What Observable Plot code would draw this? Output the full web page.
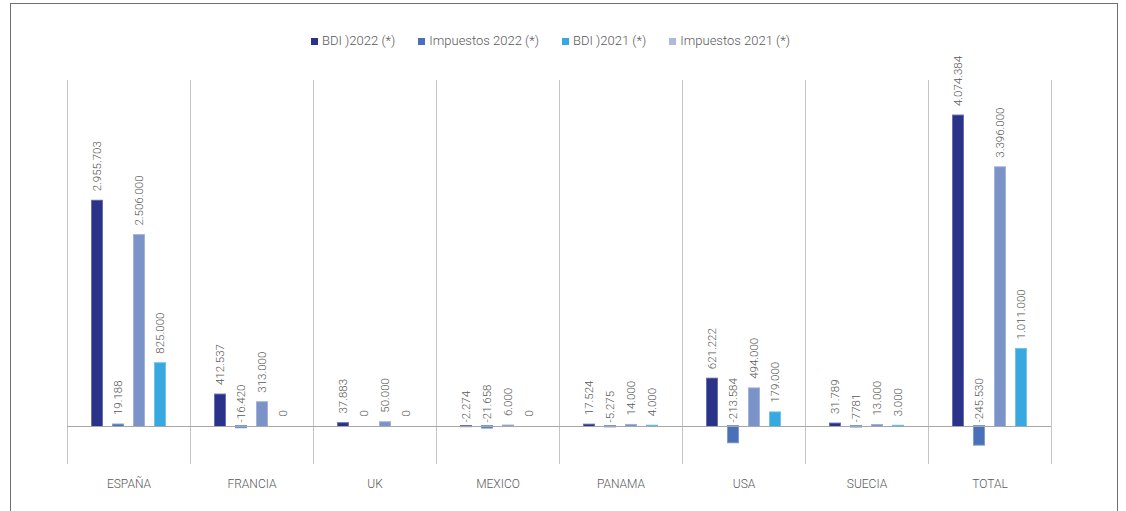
<!DOCTYPE html>
<html><head><meta charset="utf-8">
<script src="https://cdn.jsdelivr.net/npm/d3@7"></script>
<script src="https://cdn.jsdelivr.net/npm/@observablehq/plot@0.6"></script>
<style>
body{margin:0;background:#fff;font-family:Roboto,sans-serif;}
#wrap{position:relative;width:1126px;height:511px;overflow:hidden;}
#frame{position:absolute;left:10px;top:3px;width:1108px;height:600px;border:1.5px solid #707070;box-sizing:border-box;pointer-events:none;}
#legend{position:absolute;left:311px;top:33px;display:flex;gap:23px;font-size:13px;font-weight:300;color:#595959;line-height:16px;white-space:nowrap;}
#legend .item{display:flex;align-items:center;}
#legend .sw{width:7px;height:7px;margin-right:4px;display:inline-block;}
svg{display:block;}
</style></head>
<body>
<div id="wrap">
<div id="chart"></div>
<div id="frame"></div>
<div id="legend"></div>
</div>
<script>
const countries = ["ESPAÑA","FRANCIA","UK","MEXICO","PANAMA","USA","SUECIA","TOTAL"];
const series = ["BDI )2022 (*)","Impuestos 2022 (*)","BDI )2021 (*)","Impuestos 2021 (*)"];
const bdi2022 = [2955703, 412537, 37883, -2274, 17524, 621222, 31789, 4074384];
const imp2022 = [19188, -16420, 0, -21658, -5275, -213584, -7781, -245530];
const bdi2021 = [2506000, 313000, 50000, 6000, 14000, 494000, 13000, 3396000];
const imp2021 = [825000, 0, 0, 0, 4000, 179000, 3000, 1011000];
const imp2022Labels = ["19.188","-16.420","0","-21.658","-5.275","-213.584","-7781","-245.530"];
const barColors = ["#2a3389","#4a70b9","#7b93c9","#37a9e0"];
const legendColors = ["#2a3389","#4a70b9","#37a9e0","#b0b8de"];

const fmt = d3.formatLocale({decimal:",", thousands:".", grouping:[3], minus:"-"}).format(",d");
const values = [bdi2022, imp2022, bdi2021, imp2021];
const labels = [bdi2022.map(fmt), imp2022Labels, bdi2021.map(fmt), imp2021.map(fmt)];
const data = countries.flatMap((c,i)=>series.map((s,j)=>({country:c, series:s, value:values[j][i], label:labels[j][i]})));

const legend = document.getElementById("legend");
series.forEach((s,j)=>{
  const it = document.createElement("div"); it.className="item";
  const sw = document.createElement("span"); sw.className="sw"; sw.style.background=legendColors[j];
  const t = document.createElement("span"); t.textContent=s;
  it.appendChild(sw); it.appendChild(t); legend.appendChild(it);
});

const txt = {fx:"country", x:"series", text:"label", rotate:-90, textAnchor:"start", fill:"#595959", fontSize:11.5, fontWeight:300};
const chart = Plot.plot({
  width:1126, height:511, marginLeft:67, marginRight:75, marginTop:80, marginBottom:48,
  style:{fontFamily:"Roboto, sans-serif", background:"transparent"},
  fx:{domain:countries, padding:0, label:null},
  x:{domain:series, paddingInner:0.54, paddingOuter:1.14, axis:null},
  y:{domain:[-485600, 4541000], axis:null},
  color:{domain:series, range:barColors},
  marks:[
    Plot.frame({anchor:"left", stroke:"#c4c4c4"}),
    Plot.frame({anchor:"right", stroke:"#c4c4c4"}),
    Plot.barY(data.filter(d=>d.value!==0),{fx:"country", x:"series", y:"value", fill:"series", stroke:"series", strokeWidth:2, strokeOpacity:0.7}),
    Plot.ruleY([0],{stroke:"#a6a6a6"}),
    Plot.text(data.filter(d=>d.value>=0),{...txt, y:"value", dy:-10}),
    Plot.text(data.filter(d=>d.value<0),{...txt, y:()=>0, dy:-4}),
    Plot.axisFx({anchor:"bottom", tickSize:0, tickPadding:16, fontSize:12, color:"#595959", fontWeight:300, label:null})
  ]
});
document.getElementById("chart").appendChild(chart);
</script>
</body></html>
